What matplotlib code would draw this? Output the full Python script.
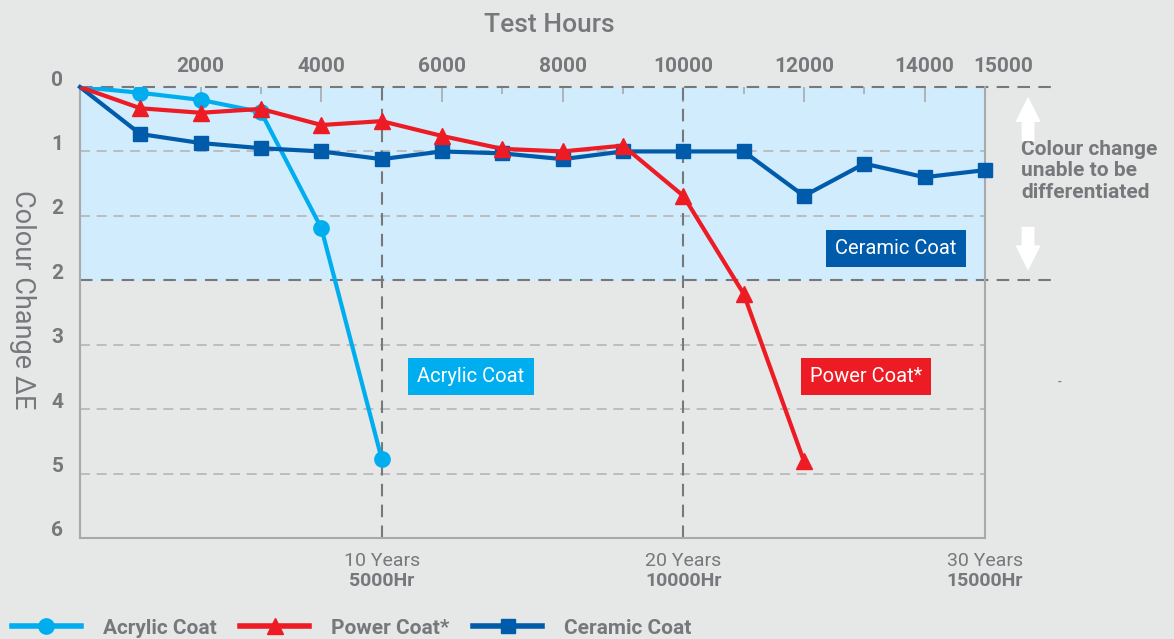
import matplotlib.pyplot as plt
import matplotlib.transforms as mtransforms
from matplotlib.lines import Line2D

# horas de teste (a cada 1000 h)
hours_acrylic = [0, 1000, 2000, 3000, 4000, 5000]
acrylic = [0, 0.09, 0.20, 0.39, 2.19, 5.77]

hours_power = [0, 1000, 2000, 3000, 4000, 5000, 6000, 7000, 8000, 9000, 10000, 11000, 12000]
power = [0, 0.33, 0.40, 0.34, 0.59, 0.53, 0.76, 0.96, 1.0, 0.91, 1.69, 3.21, 5.81]

hours_ceramic = [0, 1000, 2000, 3000, 4000, 5000, 6000, 7000, 8000, 9000, 10000,
                 11000, 12000, 13000, 14000, 15000]
ceramic = [0, 0.73, 0.87, 0.95, 1.0, 1.12, 1.0, 1.03, 1.12, 1.0, 1.0, 1.0, 1.69,
           1.19, 1.40, 1.29]

x_ticks = [2000, 4000, 6000, 8000, 10000, 12000, 14000, 15000]
y_labels = ['0', '1', '2', '2', '3', '4', '5', '6']
milestones = [5000, 10000, 15000]
years = ['10 Years', '20 Years', '30 Years']

BG = '#e6e7e7'
SHADE = '#d1ecfc'
GREY = '#77787b'
SPINE = '#a7a9ac'
C_ACR = '#00aeef'
C_POW = '#ed1c24'
C_CER = '#005baa'

plt.rcParams['font.family'] = ['Roboto', 'DejaVu Sans']

fig = plt.figure(figsize=(11.74, 6.39), dpi=100, facecolor=BG)
ax = fig.add_axes([80 / 1174, 1 - 538 / 639, 905 / 1174, 451 / 639])
ax.set_facecolor(BG)
ax.set_xlim(0, 15000)
ax.set_ylim(7, 0)

# zona onde a diferença de cor não é perceptível
ax.axhspan(0, 3, color=SHADE, zorder=0)

# grelha clara
for y in [1, 2, 4, 5, 6]:
    ax.axhline(y, color='#b3b5b7', lw=1.2, ls=(0, (6, 4)), zorder=1)
# linhas escuras tracejadas
for y in [0, 3]:
    ax.plot([0, 16160], [y, y], color=GREY, lw=1.5, ls=(0, (6, 4)),
            clip_on=False, zorder=2)
for x in [5000, 10000]:
    ax.axvline(x, color=GREY, lw=1.5, ls=(0, (6, 4)), zorder=2)

# sem marcador na origem
ax.plot(hours_acrylic, acrylic, color=C_ACR, lw=3, marker='o', ms=11,
        markevery=slice(1, None), zorder=4)
ax.plot(hours_ceramic, ceramic, color=C_CER, lw=3, marker='s', ms=10,
        markevery=slice(1, None), zorder=5, clip_on=False)
ax.plot(hours_power, power, color=C_POW, lw=3, marker='^', ms=11,
        markevery=slice(1, None), zorder=6)

for s in ['left', 'bottom', 'right']:
    ax.spines[s].set_color(SPINE)
    ax.spines[s].set_linewidth(1.5)
ax.spines['top'].set_visible(False)

# eixo x em cima
ax.xaxis.tick_top()
ax.set_xticks(x_ticks)
ax.set_xticklabels([str(v) for v in x_ticks], fontsize=15, fontweight='bold', color=GREY)
ax.set_xticks([1000, 3000, 5000, 7000, 9000, 11000, 13000], minor=True)
ax.tick_params(axis='x', which='major', direction='in', length=11, width=1.2,
               color=SPINE, pad=8)
ax.tick_params(axis='x', which='minor', direction='in', length=5, width=1.2,
               color=SPINE, top=True, bottom=False)
lbls = ax.get_xticklabels()
lbls[-1].set_transform(lbls[-1].get_transform()
                       + mtransforms.ScaledTranslation(0.18, 0, fig.dpi_scale_trans))

ax.set_yticks(range(8))
ax.set_yticklabels(y_labels, fontsize=15, fontweight='bold', color=GREY)
ax.tick_params(axis='y', length=0, pad=12)
for t in ax.get_yticklabels():
    t.set_transform(t.get_transform()
                    + mtransforms.ScaledTranslation(0, 0.09, fig.dpi_scale_trans))

fig.text(549 / 1174, 1 - 25 / 639, 'Test Hours', fontsize=19, color=GREY,
         fontweight='medium', ha='center', va='center')
fig.text(22 / 1174, 1 - 300 / 639, 'Colour Change ΔE', fontsize=19.5, color=GREY,
         rotation=270, ha='center', va='center')

# marcos de anos em baixo
trans = mtransforms.blended_transform_factory(ax.transData, ax.transAxes)
for h, yr in zip(milestones, years):
    ax.text(h, -0.05, yr, transform=trans, ha='center', va='center',
            fontsize=14, color=GREY)
    ax.text(h, -0.095, f'{h}Hr', transform=trans, ha='center', va='center',
            fontsize=14, color=GREY, fontweight='bold')

# etiquetas das séries
box = dict(boxstyle='square,pad=0.45', lw=0)
ax.text(13525, 2.51, 'Ceramic Coat', color='white', fontsize=14.5, ha='center',
        va='center', bbox=dict(box, fc=C_CER), zorder=7)
ax.text(6481, 4.5, 'Acrylic Coat', color='white', fontsize=14.5, ha='center',
        va='center', bbox=dict(box, fc=C_ACR), zorder=7)
ax.text(13028, 4.5, 'Power Coat*', color='white', fontsize=14.5, ha='center',
        va='center', bbox=dict(box, fc=C_POW), zorder=7)

# nota à direita com setas
ax.text(15600, 1.3, 'Colour change\nunable to be\ndifferentiated', fontsize=15,
        fontweight='bold', color=GREY, ha='left', va='center', linespacing=1.15)
arrow = dict(arrowstyle='simple,head_width=0.65,head_length=0.65,tail_width=0.33',
             color='white', lw=0, mutation_scale=28, shrinkA=0, shrinkB=0)
ax.annotate('', xy=(15714, 0.15), xytext=(15714, 0.84), arrowprops=arrow,
            annotation_clip=False)
ax.annotate('', xy=(15714, 2.85), xytext=(15714, 2.17), arrowprops=arrow,
            annotation_clip=False)
fig.text(1060 / 1174, 1 - 383 / 639, '-', fontsize=10, color=GREY,
         ha='center', va='center')

handles = [
    Line2D([], [], color=C_ACR, lw=4, marker='o', ms=11),
    Line2D([], [], color=C_POW, lw=4, marker='^', ms=11),
    Line2D([], [], color=C_CER, lw=4, marker='s', ms=10),
]
leg = fig.legend(handles, ['Acrylic Coat', 'Power Coat*', 'Ceramic Coat'],
                 loc='center left', bbox_to_anchor=(12 / 1174, 1 - 628 / 639), ncol=3,
                 frameon=False, handlelength=3.3, handletextpad=1.05,
                 columnspacing=1.15, borderaxespad=0, borderpad=0,
                 prop=dict(size=15, weight='bold'))
for t in leg.get_texts():
    t.set_color(GREY)

fig.savefig('out.png', dpi=100, facecolor=BG)
